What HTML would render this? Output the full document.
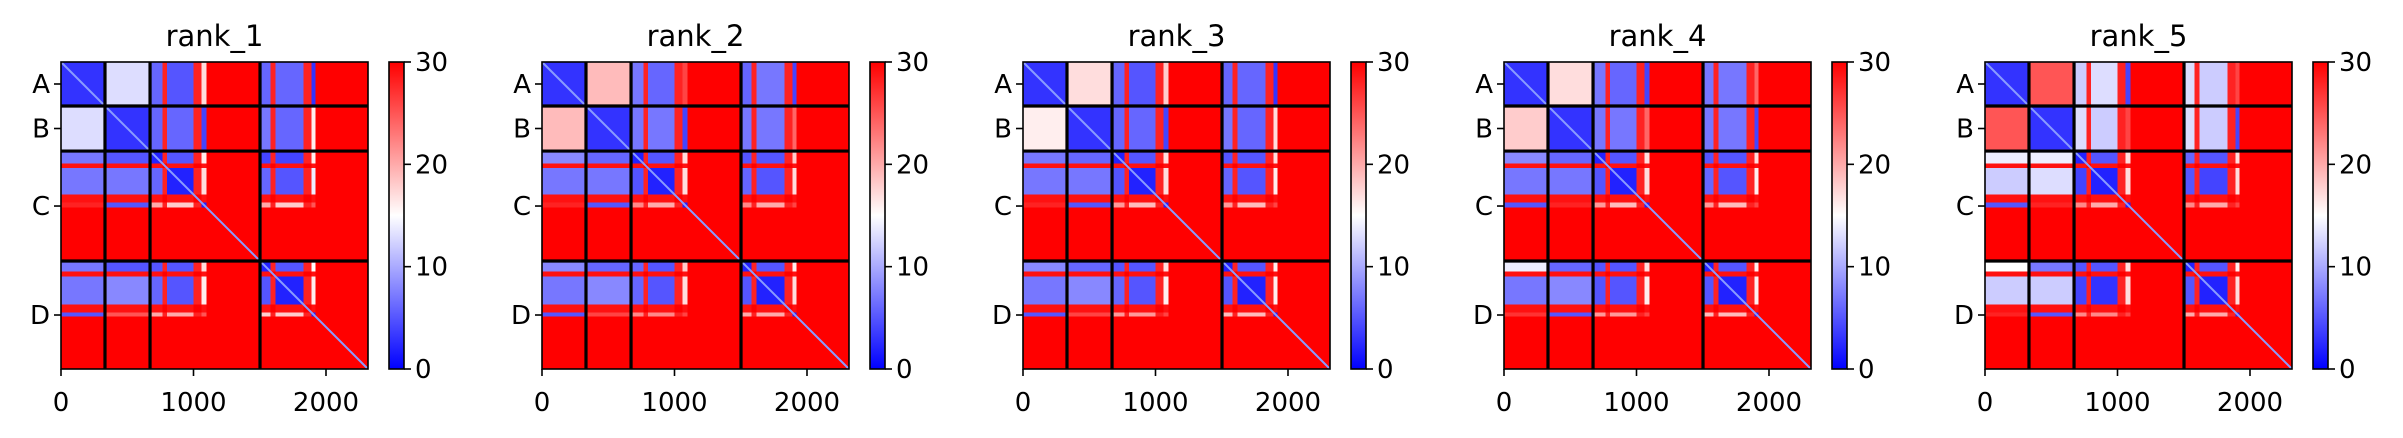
<!DOCTYPE html>
<html><head><meta charset="utf-8">
<style>
html,body{margin:0;padding:0;background:#fff;}
svg{display:block;font-family:"DejaVu Sans","Liberation Sans",sans-serif;}
</style></head>
<body>
<svg id="fig" width="2403" height="438" viewBox="0 0 2403 438" xmlns="http://www.w3.org/2000/svg"></svg>
<script>
// ---- data ----
const panelTitles = ["rank_1","rank_2","rank_3","rank_4","rank_5"];
const totalLength = 2317;
const chainStarts = [0, 332, 672, 1502];
const chainEnds = [332, 672, 1502, 2317];
const chainLabels = ["A","B","C","D"];
const xTicks = [0, 1000, 2000];
const cbTicks = [0, 10, 20, 30];
// segment breakpoints (residues) and domain index per segment (-1 = disordered / gap)
const segBreaks = [0, 332, 672, 765, 800, 1000, 1060, 1100, 1502, 1580, 1620, 1830, 1890, 1920, 2317];
const segDomain = [0, 1, 2, -2, 3, -2, 4, -1, 5, -2, 6, -2, 7, -1];
// domains: A, B, C1, C2, C3, D1, D2, D3 ; rows = aligned (y), cols = scored (x)
const pae1 = [
 [3,13,6,5,17,6,6,3],
 [13,3,6,6,4,7,6,16],
 [7,5,2,5,16,4,4,16],
 [7,7,6,2,17,6,5,14],
 [28,5,20,18,2,20,18,25],
 [7,5,5,5,17,2,5,15],
 [7,8,6,5,16,5,2,16],
 [5,25,20,20,25,18,18,2]];
const pae2 = [
 [3,19,7,6,26,6,7,4],
 [19,3,7,7,4,7,7,24],
 [8,6,2,5,17,5,5,18],
 [7,7,5,2,17,6,5,17],
 [28,5,22,20,2,22,20,26],
 [8,6,6,5,18,2,5,16],
 [7,8,6,5,17,5,2,17],
 [5,26,22,22,26,20,20,2]];
const pae3 = [
 [3,17,6,5,18,6,6,3],
 [16,3,6,6,4,7,6,17],
 [7,6,2,5,17,5,5,17],
 [7,7,5,2,17,6,5,16],
 [28,5,21,19,2,21,19,26],
 [8,6,5,5,17,2,5,16],
 [7,8,6,5,16,5,2,16],
 [5,26,21,21,26,19,19,2]];
const pae4 = [
 [3,17,7,6,4,7,7,24],
 [18,3,7,7,24,7,7,4],
 [8,6,2,5,17,5,5,17],
 [7,7,5,2,17,6,5,16],
 [5,28,21,19,2,21,19,26],
 [14,6,5,5,17,2,5,16],
 [7,8,5,5,16,5,2,16],
 [27,5,21,21,26,19,19,2]];
const pae5 = [
 [3,25,12,13,4,13,12,26],
 [25,3,13,12,26,13,12,4],
 [14,14,2,5,17,6,5,17],
 [12,13,4,2,17,5,4,17],
 [5,28,22,20,2,22,20,26],
 [15,7,5,5,17,2,5,16],
 [12,12,4,3,17,5,2,17],
 [28,5,22,22,26,20,20,2]];
const panelData = [pae1, pae2, pae3, pae4, pae5];

// ---- layout ----
const NS = "http://www.w3.org/2000/svg";
const svg = document.getElementById("fig");
const panelStep = 481, plotLeft0 = 61, plotTop = 62, plotSize = 307;
const cbOffset = 328, cbWidth = 15;
const vmax = 30;
function mk(tag, attrs, parent){
  const e = document.createElementNS(NS, tag);
  for (const k in attrs) e.setAttribute(k, attrs[k]);
  (parent||svg).appendChild(e);
  return e;
}
function bwr(v){
  let t = Math.max(0, Math.min(1, v / vmax));
  let r,g,b;
  if (t < 0.5){ r = g = Math.round(2*t*255); b = 255; }
  else { r = 255; g = b = Math.round((2-2*t)*255); }
  return `rgb(${r},${g},${b})`;
}
function segValue(pae, ri, ci){
  const dr = segDomain[ri], dc = segDomain[ci];
  if (dr >= 0 && dc >= 0) return pae[dr][dc];
  if (dr === -2 && dc >= 0) return 29;
  if (dc === -2 && dr >= 0) return 28;
  return 30;
}

panelData.forEach((pae, p) => {
  const left = plotLeft0 + p*panelStep;
  const sx = v => left + v / totalLength * plotSize;
  const sy = v => plotTop + v / totalLength * plotSize;
  const g = mk("g", {});
  
  

  const title = mk("text", {x: left + plotSize/2, y: 46, "text-anchor":"middle", "font-size":"29", fill:"#000"}, g);
  title.textContent = panelTitles[p];
  
  

  const hm = mk("g", {"shape-rendering":"crispEdges"}, g);
  
  
  for (let ri = 0; ri < segDomain.length; ri++){
    for (let ci = 0; ci < segDomain.length; ci++){
      const v = segValue(pae, ri, ci);
      const x0 = sx(segBreaks[ci]), x1 = sx(segBreaks[ci+1]);
      const y0 = sy(segBreaks[ri]), y1 = sy(segBreaks[ri+1]);
      const cell = mk("rect", {x:x0, y:y0, width:x1-x0+0.5, height:y1-y0+0.5, fill:bwr(v)}, hm);
      
      
    }
  }
  const diag = mk("line", {x1:sx(0), y1:sy(0), x2:sx(totalLength), y2:sy(totalLength), stroke:"#8a9cff", "stroke-width":"2"}, g);
  
  

  // chain boundaries
  chainStarts.slice(1).forEach(c => {
    const v = mk("line", {x1:sx(c), y1:plotTop, x2:sx(c), y2:plotTop+plotSize, stroke:"#000", "stroke-width":"3.2"}, g);
    
    
    const h = mk("line", {x1:left, y1:sy(c), x2:left+plotSize, y2:sy(c), stroke:"#000", "stroke-width":"3.2"}, g);
    
    
  });
  const frame = mk("rect", {x:left, y:plotTop, width:plotSize, height:plotSize, fill:"none", stroke:"#000", "stroke-width":"1.6"}, g);
  
  

  // x ticks
  xTicks.forEach(t => {
    const tl = mk("line", {x1:sx(t), y1:plotTop+plotSize, x2:sx(t), y2:plotTop+plotSize+7, stroke:"#000", "stroke-width":"1.6"}, g);
    
    
    const tx = mk("text", {x:sx(t), y:411, "text-anchor":"middle", "font-size":"26", fill:"#000"}, g);
    tx.textContent = t;
    
    
  });
  // y ticks (chain labels)
  chainLabels.forEach((lab, i) => {
    const mid = (chainStarts[i] + chainEnds[i]) / 2;
    const tl = mk("line", {x1:left-7, y1:sy(mid), x2:left, y2:sy(mid), stroke:"#000", "stroke-width":"1.6"}, g);
    
    
    const tx = mk("text", {x:left-11, y:sy(mid)+9, "text-anchor":"end", "font-size":"26", fill:"#000"}, g);
    tx.textContent = lab;
    
    
  });

  // colorbar
  const cbx = left + cbOffset;
  const gid = "cbgrad" + p;
  const defs = mk("defs", {}, g);
  const lg = mk("linearGradient", {id:gid, x1:"0", y1:"1", x2:"0", y2:"0"}, defs);
  mk("stop", {offset:"0", "stop-color":"rgb(0,0,255)"}, lg);
  mk("stop", {offset:"0.5", "stop-color":"rgb(255,255,255)"}, lg);
  mk("stop", {offset:"1", "stop-color":"rgb(255,0,0)"}, lg);
  const cb = mk("rect", {x:cbx, y:plotTop, width:cbWidth, height:plotSize, fill:`url(#${gid})`, stroke:"#000", "stroke-width":"1.6"}, g);
  
  
  cbTicks.forEach(t => {
    const y = plotTop + plotSize - t / vmax * plotSize;
    const tl = mk("line", {x1:cbx+cbWidth, y1:y, x2:cbx+cbWidth+7, y2:y, stroke:"#000", "stroke-width":"1.6"}, g);
    
    
    const tx = mk("text", {x:cbx+cbWidth+11, y:y+9, "font-size":"26", fill:"#000"}, g);
    tx.textContent = t;
    
    
  });
});
</script>
</body></html>
